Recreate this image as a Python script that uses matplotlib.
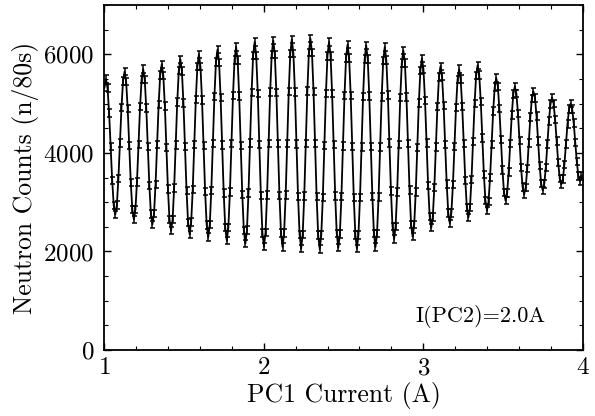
import numpy as np
import matplotlib
matplotlib.use('Agg')
import matplotlib.pyplot as plt
from matplotlib.ticker import MultipleLocator

plt.rcParams['font.family'] = 'cmr10'
plt.rcParams['axes.formatter.use_mathtext'] = True

# scan of PC1 current, about 12 points per oscillation
scan_start = 1.0028
scan_step = 0.0097

# neutron counts, one row per oscillation (starting at a peak)
counts = [5322,
    5500, 5316, 4812, 4125, 3438, 2934, 2750, 2944, 3475, 4200, 4925, 5456,
    5650, 5449, 4900, 4150, 3400, 2851, 2650, 2854, 3413, 4175, 4937, 5496,
    5700, 5489, 4912, 4125, 3338, 2761, 2550, 2768, 3363, 4175, 4987, 5582,
    5800, 5574, 4955, 4110, 3265, 2646, 2420, 2653, 3290, 4160, 5030, 5667,
    5900, 5662, 5012, 4125, 3238, 2588, 2350, 2595, 3263, 4175, 5087, 5755,
    6000, 5751, 5072, 4145, 3218, 2539, 2290, 2545, 3243, 4195, 5147, 5845,
    6100, 5840, 5130, 4160, 3190, 2480, 2220, 2483, 3203, 4185, 5167, 5887,
    6150, 5883, 5152, 4155, 3158, 2427, 2160, 2434, 3183, 4205, 5227, 5976,
    6250, 5972, 5212, 4175, 3138, 2378, 2100, 2380, 3145, 4190, 5235, 6000,
    6280, 5999, 5232, 4185, 3138, 2371, 2090, 2372, 3143, 4195, 5247, 6018,
    6300, 6016, 5240, 4180, 3120, 2344, 2060, 2345, 3125, 4190, 5255, 6035,
    6320, 6034, 5252, 4185, 3118, 2336, 2050, 2331, 3100, 4150, 5200, 5969,
    6250, 5971, 5207, 4165, 3123, 2359, 2080, 2356, 3110, 4140, 5170, 5924,
    6200, 5923, 5165, 4130, 3095, 2337, 2060, 2336, 3090, 4120, 5150, 5904,
    6180, 5906, 5157, 4135, 3113, 2364, 2090, 2362, 3105, 4120, 5135, 5878,
    6150, 5889, 5175, 4200, 3225, 2511, 2250, 2507, 3208, 4165, 5122, 5823,
    6080, 5827, 5135, 4190, 3245, 2553, 2300, 2543, 3205, 4110, 5015, 5677,
    5920, 5690, 5060, 4200, 3340, 2710, 2480, 2700, 3300, 4120, 4940, 5540,
    5760, 5546, 4962, 4165, 3368, 2784, 2570, 2780, 3353, 4135, 4917, 5490,
    5700, 5498, 4947, 4195, 3443, 2892, 2690, 2897, 3463, 4235, 5007, 5573,
    5780, 5582, 5042, 4305, 3568, 3028, 2830, 3010, 3503, 4175, 4847, 5340,
    5520, 5353, 4897, 4275, 3653, 3197, 3030, 3185, 3610, 4190, 4770, 5195,
    5350, 5203, 4802, 4255, 3708, 3307, 3160, 3300, 3683, 4205, 4727, 5110,
    5250, 5115, 4747, 4245, 3743, 3375, 3240, 3366, 3710, 4180, 4650, 4994,
    5120, 5002, 4680, 4240, 3800, 3478, 3360, 3470, 3770, 4180, 4590, 4890,
    5000, 4895, 4607, 4215, 3823, 3535, 3430, 3532]
count_err = 75

counts = np.array(counts)
current = scan_start + scan_step*np.arange(len(counts))

fig = plt.figure(figsize=(5.95, 4.16), dpi=100)
ax = fig.add_axes([0.1748, 0.1587, 0.805, 0.829])

ax.plot(current, counts, c='k', lw=1.3)
ax.errorbar(current, counts, yerr=count_err, fmt='none', ecolor='k',
            elinewidth=1.1, capsize=1.8, capthick=1.1)

ax.text(2.95, 560, 'I(PC2)=2.0A', fontsize=16)

ax.set_xlim(1, 4)
ax.set_ylim(0, 7000)
ax.xaxis.set_major_locator(MultipleLocator(1))
ax.xaxis.set_minor_locator(MultipleLocator(0.2))
ax.yaxis.set_major_locator(MultipleLocator(2000))
ax.yaxis.set_minor_locator(MultipleLocator(500))
ax.tick_params(which='both', direction='in', top=True, right=True, labelsize=18)
ax.tick_params(which='major', length=5, width=1)
ax.tick_params(which='minor', length=3, width=0.8)
ax.tick_params(axis='x', pad=5)
ax.tick_params(axis='y', pad=7)
for s in ax.spines.values():
    s.set_linewidth(1.3)

ax.set_xlabel('PC1 Current (A)', fontsize=18.5, labelpad=2)
ax.set_ylabel('Neutron Counts (n/80s)', fontsize=18.5, labelpad=3)

fig.savefig('out.png', dpi=100)
